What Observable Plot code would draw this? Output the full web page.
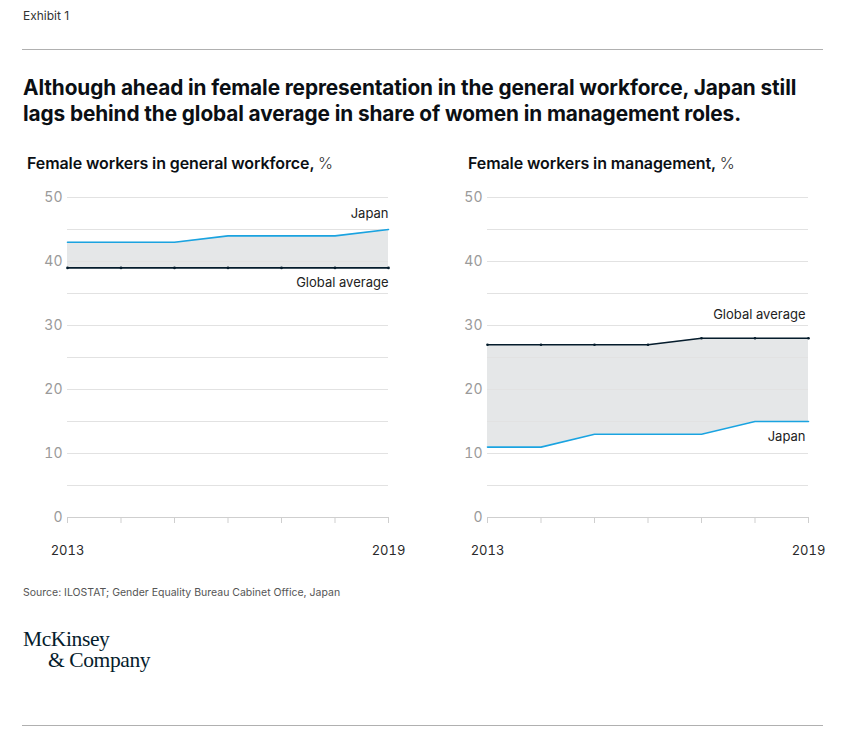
<!DOCTYPE html>
<html>
<head>
<meta charset="utf-8">
<script src="https://cdn.jsdelivr.net/npm/d3@7"></script>
<script src="https://cdn.jsdelivr.net/npm/@observablehq/plot@0.6"></script>
<style>
  body { margin: 0; background: #fff; font-family: Inter, "Noto Sans", sans-serif; color: #051c2c; }
  #page { position: relative; width: 854px; height: 750px; }
  .abs { position: absolute; }
  #exhibit { left: 23px; top: 8px; font-size: 12px; color: #333; }
  .rule { left: 22px; width: 801px; height: 0; border-top: 1px solid #b0b0b0; }
  #title { left: 23px; top: 75px; width: 810px; font-size: 20.8px; font-weight: 700; line-height: 26px; color: #0b0f14; letter-spacing: -0.1px; }
  .sub { font-size: 16px; font-weight: 600; color: #0b0f14; top: 153px; letter-spacing: -0.1px; }
  .sub span { font-weight: 300; color: #333; }
  #source { left: 23px; top: 586px; font-size: 10.5px; color: #555; }
  #logo { left: 23px; top: 629px; font-family: "Liberation Serif", "DejaVu Serif", serif; font-size: 21.5px; line-height: 21px; color: #051c2c; letter-spacing: -0.4px; }
  #logo .l2 { padding-left: 25px; }
</style>
</head>
<body>
<div id="page">
  <div id="exhibit" class="abs">Exhibit 1</div>
  <div class="abs rule" style="top:49px"></div>
  <div id="title" class="abs">Although ahead in female representation in the general workforce, Japan still<br>lags behind the global average in share of women in management roles.</div>
  <div class="abs sub" style="left:27px">Female workers in general workforce, <span>%</span></div>
  <div class="abs sub" style="left:468px">Female workers in management, <span>%</span></div>
  <div id="chart1" class="abs" style="left:20px; top:185px"></div>
  <div id="chart2" class="abs" style="left:440px; top:185px"></div>
  <div id="source" class="abs">Source: ILOSTAT; Gender Equality Bureau Cabinet Office, Japan</div>
  <div id="logo" class="abs">McKinsey<br><span class="l2">&amp; Company</span></div>
  <div class="abs rule" style="top:725px"></div>
</div>
<script>
const years = [2013, 2014, 2015, 2016, 2017, 2018, 2019];
const workforceJapan = [43, 43, 43, 44, 44, 44, 45];
const workforceGlobal = [39, 39, 39, 39, 39, 39, 39];
const managementJapan = [11, 11, 13, 13, 13, 15, 15];
const managementGlobal = [27, 27, 27, 27, 28, 28, 28];
const yTicks = [0, 10, 20, 30, 40, 50];
const gridTicks = [5, 10, 15, 20, 25, 30, 35, 40, 45, 50];
const xLabels = [2013, 2019];

const JAPAN = "#1aa3e0";
const GLOBAL = "#051c2c";

function makeChart(japan, global, japanDy, globalDy, labelDx) {
  const data = years.map((year, i) => ({ year, japan: japan[i], global: global[i] }));
  const last = [data[data.length - 1]];
  return Plot.plot({
    width: 390,
    height: 380,
    marginLeft: 47,
    marginRight: 22,
    marginTop: 12,
    marginBottom: 48,
    style: { fontFamily: "Inter, 'Noto Sans', sans-serif", background: "transparent" },
    x: { domain: [2013, 2019] },
    y: { domain: [0, 50] },
    marks: [
      Plot.areaY(data, { x: "year", y1: "global", y2: "japan", fill: "#e5e7e8" }),
      Plot.gridY(gridTicks, { stroke: "#e2e2e2", strokeOpacity: 1 }),
      Plot.ruleY([0], { stroke: "#cfcfcf" }),
      Plot.axisY(yTicks, { tickSize: 0, tickPadding: 5, fontSize: 14, fill: "#9a9a9a", label: null }),
      Plot.axisX(years, { tickSize: 6, stroke: "#cfcfcf", text: null, label: null }),
      Plot.axisX(xLabels, { tickSize: 0, tickPadding: 28, fontSize: 13, fill: "#2a2a2a", tickFormat: d => String(d), label: null }),
      Plot.line(data, { x: "year", y: "global", stroke: GLOBAL, strokeWidth: 1.6 }),
      Plot.dot(data, { x: "year", y: "global", fill: GLOBAL, r: 1.3 }),
      Plot.line(data, { x: "year", y: "japan", stroke: JAPAN, strokeWidth: 1.6 }),
      Plot.text(last, { x: "year", y: "japan", text: () => "Japan", textAnchor: "end", dy: japanDy, dx: labelDx, fontSize: 13, fill: "#222" }),
      Plot.text(last, { x: "year", y: "global", text: () => "Global average", textAnchor: "end", dy: globalDy, dx: labelDx, fontSize: 13, fill: "#222" })
    ]
  });
}

document.getElementById("chart1").appendChild(makeChart(workforceJapan, workforceGlobal, -16, 15, 0));
document.getElementById("chart2").appendChild(makeChart(managementJapan, managementGlobal, 15, -23, -3));
</script>
</body>
</html>
